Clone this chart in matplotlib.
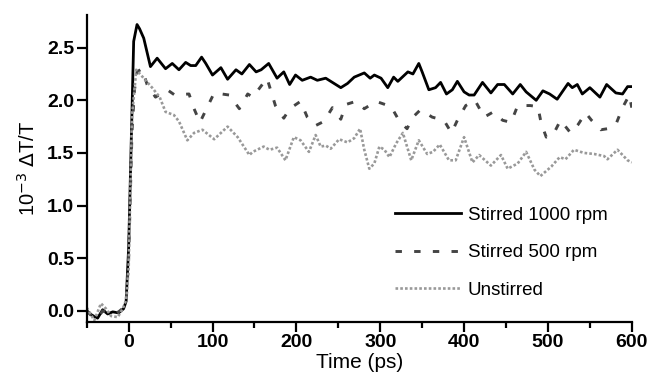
import matplotlib
matplotlib.use("Agg")
import matplotlib.pyplot as plt
from matplotlib.ticker import MultipleLocator

plt.rcParams['font.family'] = ['Liberation Sans', 'DejaVu Sans']

# ---- data ----
t_1000 = [-50, -44, -37, -31, -25, -19, -12, -6, -3, 0, 4, 6, 10, 13, 18, 26, 34, 44, 52, 60, 68, 74,
          80, 87, 92, 100, 110, 118, 128, 135, 144, 152, 158, 167, 177, 185, 192, 199, 207, 217,
          225, 235, 247, 253, 261, 269, 281, 288, 293, 301, 309, 316, 321, 333, 339, 346, 350,
          358, 366, 372, 379, 386, 392, 400, 406, 412, 422, 432, 440, 448, 458, 467, 474, 486,
          494, 502, 511, 524, 529, 535, 541, 550, 562, 570, 581, 589, 595, 600]
s_1000 = [0.00, -0.04, -0.07, 0.01, -0.03, -0.01, -0.02, 0.02, 0.09, 0.6, 1.9, 2.56, 2.72, 2.68, 2.59,
          2.32, 2.40, 2.30, 2.35, 2.29, 2.36, 2.33, 2.33, 2.41, 2.35, 2.24, 2.31, 2.20, 2.29, 2.25,
          2.34, 2.27, 2.29, 2.35, 2.21, 2.27, 2.15, 2.24, 2.19, 2.22, 2.19, 2.21, 2.15, 2.12, 2.16,
          2.22, 2.26, 2.21, 2.24, 2.21, 2.12, 2.22, 2.18, 2.27, 2.25, 2.35, 2.27, 2.10, 2.12, 2.17,
          2.06, 2.10, 2.18, 2.08, 2.05, 2.05, 2.17, 2.07, 2.15, 2.15, 2.06, 2.15, 2.08, 2.00, 2.09,
          2.06, 2.01, 2.16, 2.12, 2.15, 2.06, 2.12, 2.03, 2.15, 2.07, 2.06, 2.13, 2.13]

t_500 = [-50, -44, -37, -31, -25, -19, -12, -6, -3, 0, 4, 7, 10, 16, 22, 32, 46, 55, 72, 78, 85, 102,
         120, 132, 142, 148, 165, 175, 185, 192, 205, 213, 223, 233, 243, 253, 259, 271, 281, 295,
         313, 323, 332, 339, 348, 362, 376, 385, 392, 402, 413, 424, 435, 446, 456, 464, 479, 488,
         492, 498, 506, 515, 527, 536, 545, 552, 563, 571, 581, 589, 597, 600]
s_500 = [0.00, -0.05, -0.07, 0.00, -0.02, -0.03, -0.01, 0.03, 0.08, 0.5, 1.7, 2.1, 2.27, 2.30, 2.15,
         2.03, 2.10, 2.05, 2.06, 1.92, 1.79, 2.07, 2.05, 1.92, 2.06, 2.03, 2.21, 1.95, 1.83, 1.92,
         1.99, 1.84, 1.76, 1.80, 1.93, 1.82, 1.96, 1.99, 1.92, 1.99, 1.94, 1.80, 1.73, 1.84, 1.91,
         1.84, 1.81, 1.69, 1.81, 1.95, 2.00, 1.84, 1.89, 1.81, 1.79, 1.95, 1.95, 1.94, 1.78, 1.65,
         1.67, 1.81, 1.69, 1.77, 1.88, 1.81, 1.72, 1.73, 1.77, 1.93, 2.05, 1.93]

t_un = [-50, -41, -33, -27, -21, -13, -7, -3, 0, 4, 7, 9, 18, 28, 37, 44, 54, 60, 70, 78, 88, 102, 118,
        130, 144, 148, 161, 168, 177, 187, 197, 205, 215, 223, 229, 235, 241, 251, 261, 269, 276,
        281, 287, 293, 299, 305, 311, 319, 327, 337, 346, 356, 363, 371, 382, 390, 400, 410, 418,
        432, 444, 452, 464, 474, 484, 491, 504, 514, 521, 531, 543, 555, 567, 571, 583, 595, 600]
s_un = [0.03, -0.09, 0.07, 0.02, -0.05, -0.06, 0.02, 0.10, 0.4, 1.86, 2.1, 2.29, 2.21, 2.12, 2.03,
        1.89, 1.86, 1.80, 1.62, 1.69, 1.72, 1.63, 1.75, 1.65, 1.48, 1.51, 1.56, 1.53, 1.55, 1.43,
        1.65, 1.62, 1.51, 1.67, 1.56, 1.57, 1.54, 1.63, 1.60, 1.64, 1.73, 1.53, 1.35, 1.40, 1.56,
        1.53, 1.46, 1.59, 1.69, 1.43, 1.62, 1.49, 1.51, 1.58, 1.43, 1.43, 1.65, 1.41, 1.48, 1.38,
        1.48, 1.35, 1.40, 1.51, 1.34, 1.28, 1.37, 1.46, 1.44, 1.53, 1.50, 1.49, 1.47, 1.44, 1.53,
        1.43, 1.41]

labels = ["Stirred 1000 rpm", "Stirred 500 rpm", "Unstirred"]

fig = plt.figure(figsize=(6.52, 3.76), dpi=100)
ax = fig.add_axes([0.133, 0.144, 0.836, 0.816])

ax.plot(t_1000, s_1000, color='black', lw=2.0, ls='-', label=labels[0])
ax.plot(t_500, s_500, color='#444444', lw=2.1, ls=(0, (2.2, 4.2)), label=labels[1])
ax.plot(t_un, s_un, color='#999999', lw=1.9, ls=(0, (1.0, 0.8)), label=labels[2])

ax.set_xlim(-50, 600)
ax.set_ylim(-0.105, 2.81)
ax.xaxis.set_major_locator(MultipleLocator(100))
ax.xaxis.set_minor_locator(MultipleLocator(50))
ax.yaxis.set_major_locator(MultipleLocator(0.5))
ax.yaxis.set_major_formatter(matplotlib.ticker.FormatStrFormatter('%.1f'))

for s in ['top', 'right']:
    ax.spines[s].set_visible(False)
for s in ['left', 'bottom']:
    ax.spines[s].set_linewidth(1.6)

ax.tick_params(which='major', direction='out', length=7, width=1.6, labelsize=14, pad=2)
ax.tick_params(which='minor', direction='out', length=4, width=1.6)
for lab in ax.get_xticklabels() + ax.get_yticklabels():
    lab.set_fontweight('bold')

ax.set_xlabel('Time (ps)', fontsize=15, labelpad=1.5)
ax.set_ylabel(r'10$^{-3}$ $\Delta$T/T', fontsize=14.5, labelpad=6)

leg = ax.legend(loc='upper left', bbox_to_anchor=(0.566, 0.375), frameon=False,
                borderaxespad=0, borderpad=0,
                fontsize=13.5, handlelength=3.5, handletextpad=0.37, labelspacing=1.08)

fig.savefig('out.png', dpi=100)
